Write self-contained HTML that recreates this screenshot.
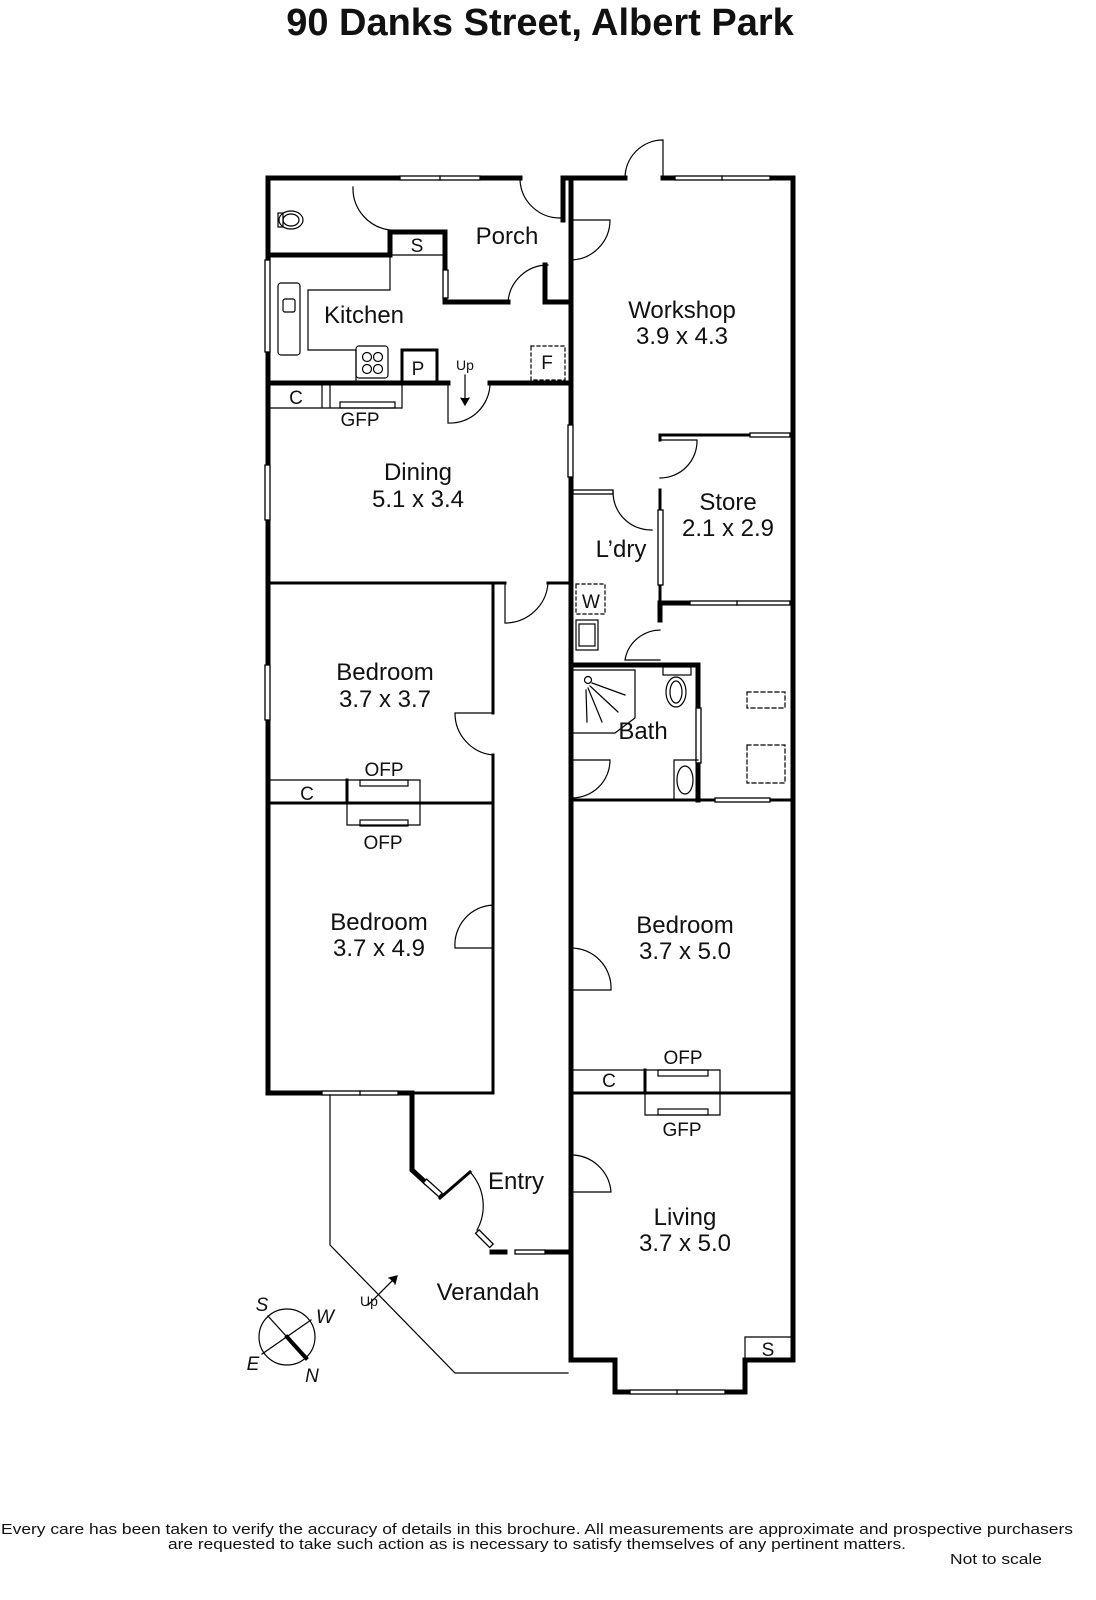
<!DOCTYPE html>
<html><head><meta charset="utf-8"><style>
html,body{margin:0;padding:0;background:#fff;}
svg{display:block}
text{font-family:"Liberation Sans",sans-serif;fill:#111}
</style></head><body>
<svg width="1096" height="1600" viewBox="0 0 1096 1600" xmlns="http://www.w3.org/2000/svg">
<text x="540" y="35" font-size="38" font-weight="bold" text-anchor="middle">90 Danks Street, Albert Park</text>

<g fill="none" stroke="#000" stroke-linecap="square">
<g stroke-width="5">
<path d="M268 178 V1093 H322"/>
<path d="M398 1093 H412 V1170 L425 1182"/>
<path d="M268 178 H400 M480 178 H520 M563 178 H583 M563 178 V220"/>
<path d="M571 178 V1360 M571 178 H625 M663 178 H675 M770 178 H793 V1360 H745 V1392 H725 M630 1392 H615 V1360 H571"/>
<path d="M492 1252 L505 1252 M545 1252 H571"/>
<path d="M268 255 H390 V232 M390 232 H445 V270 M445 298 V302 H508 M545 265 V302 H571"/>
<path d="M268 383 H448 M490 383 H571"/>
<path d="M660 603 H690 M660 603 V620 M663 665 H698 V800 M571 665 H663"/>
</g>
<g stroke-width="3">
<path d="M268 583 H505 M548 583 H571"/>
<path d="M493 583 V713 M493 755 V1093 H412"/>
<path d="M268 803 H493"/>
<path d="M571 800 H715 M770 800 H793"/>
<path d="M571 1093 H793"/>
<path d="M660 435 H750 M660 435 V440 M660 490 V603"/>
<path d="M440 1198 L470 1172"/>
</g>
<g stroke-width="1.3" fill="#fff">
<rect x="400" y="176" width="80" height="4"/><line x1="440" y1="176" x2="440" y2="180"/>
<rect x="675" y="176" width="95" height="4"/><line x1="722" y1="176" x2="722" y2="180"/>
<rect x="265" y="260" width="5" height="92"/>
<rect x="265" y="465" width="5" height="55"/>
<rect x="265" y="665" width="5" height="55"/>
<rect x="322" y="1091" width="76" height="4"/><line x1="360" y1="1091" x2="360" y2="1095"/>
<rect x="443" y="270" width="5" height="28"/>
<rect x="568" y="425" width="5" height="52"/>
<rect x="750" y="433" width="40" height="4"/>
<rect x="573" y="490" width="40" height="4"/>
<rect x="658" y="510" width="5" height="75"/>
<rect x="690" y="601" width="100" height="4"/><line x1="737" y1="601" x2="737" y2="605"/>
<rect x="696" y="708" width="5" height="55"/>
<rect x="715" y="798" width="55" height="4"/>
<rect x="515" y="1250" width="30" height="4"/>
<rect x="630" y="1390" width="95" height="4"/><line x1="677" y1="1390" x2="677" y2="1394"/>
<rect x="422" y="1185" width="21" height="5" transform="rotate(42 432 1188)"/>
<rect x="474" y="1236" width="20" height="5" transform="rotate(45 484 1239)"/>
</g>
<g stroke-width="1.2">
<path d="M353 187 A42 42 0 0 0 390 230"/>
<path d="M520 180 A40 40 0 0 0 560 218"/>
<path d="M625 178 A38 38 0 0 1 663 140 V178"/>
<path d="M571 220 H610 A40 40 0 0 1 571 260"/>
<path d="M508 302 A40 40 0 0 1 548 265"/>
<path d="M448 383 V423 A40 40 0 0 0 490 383"/>
<path d="M505 583 V623 A43 43 0 0 0 548 583"/>
<path d="M493 713 H455 A42 42 0 0 0 493 755"/>
<path d="M493 905 A40 40 0 0 0 455 948 H493"/>
<path d="M571 948 A40 40 0 0 1 611 990 H571"/>
<path d="M571 1155 A40 40 0 0 1 611 1192 H571"/>
<path d="M571 760 H610 A38 38 0 0 1 571 798"/>
<path d="M660 440 H697 A37 37 0 0 1 660 478"/>
<path d="M613 492 A38 38 0 0 0 652 530"/>
<path d="M660 630 A36 36 0 0 0 625 660 H660"/>
<path d="M470 1172 A50 50 0 0 1 477 1230"/>
</g>
<g stroke-width="1.2">
<path d="M330 1095 V1245 L455 1373 H568"/>
</g>
<g stroke-width="1.2">
<path d="M390 255 H445 M390 232 V255"/>
<path d="M270 260 V255 M390 255 V290 H308 V350 H356 V380"/>
<rect x="278" y="283" width="22" height="72" rx="3"/>
<rect x="283" y="299" width="12" height="13" rx="2"/>
<rect x="356" y="346" width="32" height="32" rx="3"/>
<circle cx="367" cy="357" r="4.5"/><circle cx="378" cy="357" r="4.5"/><circle cx="367" cy="369" r="4.5"/><circle cx="378" cy="369" r="4.5"/>
<path d="M402 383 V350 H437 V383" stroke-width="3"/>
<path d="M270 408 H322 V383 M322 408 H330 M330 408 V383 H402 V408 H330"/>
<rect x="340" y="402" width="55" height="6"/>
<ellipse cx="291" cy="220" rx="12" ry="9"/><ellipse cx="291" cy="220" rx="8" ry="6"/>
<rect x="278" y="213" width="5" height="14"/>
<rect x="531" y="346" width="34" height="34" stroke-dasharray="3,3"/>
<rect x="576" y="584" width="29" height="30" stroke-dasharray="3,3"/>
<rect x="576" y="620" width="22" height="30"/><rect x="579" y="624" width="16" height="22"/>
<path d="M574 670 H635 V718 L615 733 H574"/>
<circle cx="588" cy="680" r="3.5"/>
<path d="M592 683 L625 695 M590 686 L618 712 M588 688 L602 722 M586 690 L587 722"/>
<rect x="663" y="667" width="28" height="8"/>
<ellipse cx="676" cy="692" rx="10" ry="15"/><ellipse cx="676" cy="692" rx="6" ry="11"/>
<path d="M698 760 H674 V800"/>
<ellipse cx="685" cy="780" rx="8" ry="14"/>
<rect x="747" y="692" width="38" height="16" stroke-dasharray="4,3"/>
<rect x="747" y="745" width="38" height="38" stroke-dasharray="4,3"/>
<path d="M270 780 H347 V803 M347 780 H420 V825 H347 V803"/>
<rect x="360" y="780" width="48" height="6"/><rect x="360" y="820" width="48" height="6"/>
<path d="M347 780 V803" stroke-width="3"/>
<path d="M573 1070 H645 V1093 M645 1070 H720 V1115 H645 V1093"/>
<path d="M645 1070 V1093" stroke-width="3"/>
<rect x="658" y="1070" width="50" height="6"/><rect x="658" y="1109" width="50" height="6"/>
<path d="M745 1360 V1337 H793"/>
<path d="M465 375 V403"/><path d="M461 398 L465 405 L469 398" fill="#000"/>
<path d="M368 1305 L396 1277"/><path d="M389 1278 L397 1276 L395 1284" fill="#000"/>
<circle cx="287" cy="1337" r="28"/>
<path d="M268 1316 L306 1358 M262 1354 L311 1320"/>
<path d="M287 1337 L306 1358" stroke-width="4"/>
</g>
</g>

<g font-size="24">
<text x="507" y="244" text-anchor="middle">Porch</text>
<text x="364" y="323" text-anchor="middle">Kitchen</text>
<text x="682" y="318" text-anchor="middle">Workshop</text>
<text x="682" y="344" text-anchor="middle">3.9 x 4.3</text>
<text x="418" y="480" text-anchor="middle">Dining</text>
<text x="418" y="507" text-anchor="middle">5.1 x 3.4</text>
<text x="728" y="510" text-anchor="middle">Store</text>
<text x="728" y="536" text-anchor="middle">2.1 x 2.9</text>
<text x="621" y="557" text-anchor="middle">L’dry</text>
<text x="643" y="739" text-anchor="middle">Bath</text>
<text x="385" y="680" text-anchor="middle">Bedroom</text>
<text x="385" y="707" text-anchor="middle">3.7 x 3.7</text>
<text x="379" y="930" text-anchor="middle">Bedroom</text>
<text x="379" y="956" text-anchor="middle">3.7 x 4.9</text>
<text x="685" y="933" text-anchor="middle">Bedroom</text>
<text x="685" y="959" text-anchor="middle">3.7 x 5.0</text>
<text x="685" y="1225" text-anchor="middle">Living</text>
<text x="685" y="1251" text-anchor="middle">3.7 x 5.0</text>
<text x="516" y="1189" text-anchor="middle">Entry</text>
<text x="488" y="1300" text-anchor="middle">Verandah</text>
</g>
<g font-size="19" text-anchor="middle">
<text x="417" y="252">S</text>
<text x="418" y="375">P</text>
<text x="547" y="369">F</text>
<text x="296" y="404">C</text>
<text x="360" y="426">GFP</text>
<text x="591" y="608">W</text>
<text x="384" y="776">OFP</text>
<text x="307" y="800">C</text>
<text x="383" y="849">OFP</text>
<text x="683" y="1064">OFP</text>
<text x="609" y="1087">C</text>
<text x="682" y="1136">GFP</text>
<text x="768" y="1356">S</text>
<text x="262" y="1311" font-style="italic">S</text>
<text x="325" y="1323" font-style="italic">W</text>
<text x="253" y="1370" font-style="italic">E</text>
<text x="312" y="1382" font-style="italic">N</text>
</g>
<text x="465" y="370" font-size="14" text-anchor="middle">Up</text>
<text x="369" y="1306" font-size="14" text-anchor="middle">Up</text>
<g font-size="15">
<text x="537" y="1534" text-anchor="middle" textLength="1072" lengthAdjust="spacingAndGlyphs">Every care has been taken to verify the accuracy of details in this brochure.  All measurements are approximate and prospective purchasers</text>
<text x="537" y="1549" text-anchor="middle" textLength="738" lengthAdjust="spacingAndGlyphs">are requested to take such action as is necessary to satisfy themselves of any pertinent matters.</text>
<text x="996" y="1564" text-anchor="middle" textLength="92" lengthAdjust="spacingAndGlyphs">Not to scale</text>
</g>
</svg>
</body></html>
